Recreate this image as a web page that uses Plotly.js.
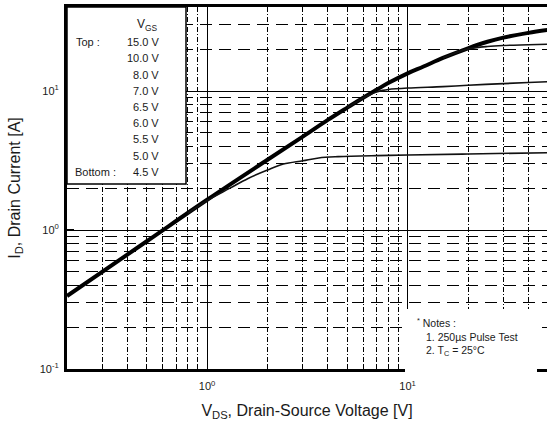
<!DOCTYPE html>
<html><head><meta charset="utf-8">
<script src="https://cdn.plot.ly/plotly-3.0.1.min.js"></script>
<style>html,body{margin:0;padding:0;overflow:hidden;background:#fff}</style>
</head><body><div id="chart" style="width:547px;height:436px"></div>
<script>
// ---- data ----
const vgsLabels = ['15.0 V','10.0 V','8.0 V','7.0 V','6.5 V','6.0 V','5.5 V','5.0 V','4.5 V'];

// top (thick) curve
const vdsTop = [0.2, 0.5, 1, 2, 3, 4, 5, 6, 7, 8, 10, 12, 15, 20, 25, 30, 40, 50];
const idTop  = [0.335, 0.83, 1.65, 3.2, 4.7, 6.2, 7.6, 8.95, 10.2, 11.4, 13.4, 15.0, 17.3, 20.3, 22.6, 24.2, 26.2, 27.5];

// second curve (splits near 20 V)
const vdsB = [15, 18, 20, 25, 30, 40, 50];
const idB  = [17.3, 19.2, 20.1, 20.9, 21.25, 21.5, 21.7];

// third curve (splits near 7 V)
const vdsC = [5, 6, 6.5, 7, 7.5, 8, 10, 15, 20, 30, 40, 50];
const idC  = [7.6, 8.9, 9.45, 9.85, 10.1, 10.25, 10.5, 10.75, 11.0, 11.3, 11.5, 11.65];

// fourth curve (splits near 1.3 V)
const vdsD = [0.8, 1, 1.3, 1.6, 2, 2.4, 3, 3.6, 4.5, 7, 10, 20, 50];
const idD  = [1.32, 1.63, 2.0, 2.35, 2.7, 2.98, 3.15, 3.3, 3.37, 3.43, 3.46, 3.52, 3.6];

const xTickVals = [1, 10];
const xTickText = ['10<sup>0</sup>', '10<sup>1</sup>'];
const yTickVals = [0.1, 1, 10];
const yTickText = ['10<sup>-1</sup>', '10<sup>0</sup>', '10<sup>1</sup>'];
const noteLines = ['1. 250\u00b5s Pulse Test', '2. T<sub>C</sub> = 25\u00b0C'];

// ---- minor grid positions (2..9 within each decade) ----
function minorVals(decades, maxVal) {
  const out = [];
  decades.forEach(d => { for (let k = 2; k <= 9; k++) { const v = k * d; if (v <= maxVal) out.push(v); } });
  return out;
}
const minorX = minorVals([0.1, 1, 10], 50);
const minorY = minorVals([0.1, 1, 10], 40);

const FONT = 'Liberation Sans, Arial, sans-serif';
const TXT = '#1a1a1a';

const traces = [
  {x: vdsTop, y: idTop, mode: 'lines', name: 'Top', line: {color: '#000', width: 4, shape: 'spline', smoothing: 1}},
  {x: vdsB, y: idB, mode: 'lines', name: 'B', line: {color: '#111', width: 1.6, shape: 'spline', smoothing: 1}},
  {x: vdsC, y: idC, mode: 'lines', name: 'C', line: {color: '#111', width: 1.6, shape: 'spline', smoothing: 1}},
  {x: vdsD, y: idD, mode: 'lines', name: 'D', line: {color: '#111', width: 1.6, shape: 'spline', smoothing: 1}}
];

// pixel -> paper helpers (plot area: x 67..547, y 7..369)
const L = 67, R = 547, T = 7, B = 369;
const px = v => (v - L) / (R - L);
const py = v => (B - v) / (B - T);

const ann = [];
ann.push({xref: 'paper', yref: 'paper', x: px(147), y: py(25), xanchor: 'center', yanchor: 'middle',
  text: 'V<sub>GS</sub>', showarrow: false, font: {family: FONT, size: 12, color: TXT}});
vgsLabels.forEach((t, i) => {
  ann.push({xref: 'paper', yref: 'paper', x: px(161), y: py(42.3 + i * 16.18), xanchor: 'right', yanchor: 'middle',
    text: t, showarrow: false, font: {family: FONT, size: 11, color: TXT}});
});
ann.push({xref: 'paper', yref: 'paper', x: px(74), y: py(42.3), xanchor: 'left', yanchor: 'middle',
  text: 'Top :', showarrow: false, font: {family: FONT, size: 11, color: TXT}});
ann.push({xref: 'paper', yref: 'paper', x: px(73), y: py(171.7), xanchor: 'left', yanchor: 'middle',
  text: 'Bottom :', showarrow: false, font: {family: FONT, size: 11, color: TXT}});
ann.push({xref: 'paper', yref: 'paper', x: px(415), y: py(322), xanchor: 'left', yanchor: 'middle',
  text: '<sup>*</sup> Notes :', showarrow: false, font: {family: FONT, size: 10.5, color: TXT}});
noteLines.forEach((t, i) => {
  ann.push({xref: 'paper', yref: 'paper', x: px(424), y: py(337 + i * 14), xanchor: 'left', yanchor: 'middle',
    text: t, showarrow: false, font: {family: FONT, size: 10.5, color: TXT}});
});

const shapes = [
  {type: 'rect', xref: 'paper', yref: 'paper', x0: px(L), x1: px(186), y0: py(184), y1: py(T),
   fillcolor: '#fff', line: {color: '#000', width: 1.5}, layer: 'above'},
  {type: 'rect', xref: 'paper', yref: 'paper', x0: px(405), x1: px(537), y0: py(373), y1: py(309),
   fillcolor: '#fff', line: {width: 0}, layer: 'above'}
];

const axisCommon = {
  type: 'log', tickmode: 'array', ticks: 'inside', ticklen: 7, tickwidth: 1.2, tickcolor: '#000',
  showline: true, linecolor: '#000', linewidth: 3, showgrid: true, gridcolor: '#000', gridwidth: 1,
  zeroline: false, tickfont: {family: FONT, size: 11, color: TXT}
};

const layout = {
  width: 547, height: 436,
  margin: {l: L, r: 547 - R, t: T, b: 436 - B},
  paper_bgcolor: '#fff', plot_bgcolor: '#fff',
  showlegend: false,
  xaxis: Object.assign({}, axisCommon, {
    range: [Math.log10(0.2), Math.log10(0.2) + (R - L) / 200.5],
    tickvals: xTickVals, ticktext: xTickText, mirror: true, ticklabelstandoff: 5,
    minor: {tickmode: 'array', tickvals: minorX, ticks: 'inside', ticklen: 5, tickwidth: 1, tickcolor: '#000',
            showgrid: true, gridcolor: '#000', gridwidth: 1, griddash: '5px,2px,1px,2px'},
    title: {text: 'V<sub>DS</sub>, Drain-Source Voltage [V]', font: {family: FONT, size: 16, color: TXT}, standoff: 14}
  }),
  yaxis: Object.assign({}, axisCommon, {
    range: [-1, -1 + (B - T) / 139],
    tickvals: yTickVals, ticktext: yTickText, mirror: false, ticklabelstandoff: 3,
    minor: {tickmode: 'array', tickvals: minorY, ticks: 'inside', ticklen: 5, tickwidth: 1, tickcolor: '#000',
            showgrid: true, gridcolor: '#000', gridwidth: 1, griddash: '12px,7px'},
    title: {text: 'I<sub>D</sub>, Drain Current [A]', font: {family: FONT, size: 16, color: TXT}, standoff: 16}
  }),
  annotations: ann,
  shapes: shapes
};

Plotly.newPlot('chart', traces, layout, {displayModeBar: false, staticPlot: true});
</script>
</body></html>
